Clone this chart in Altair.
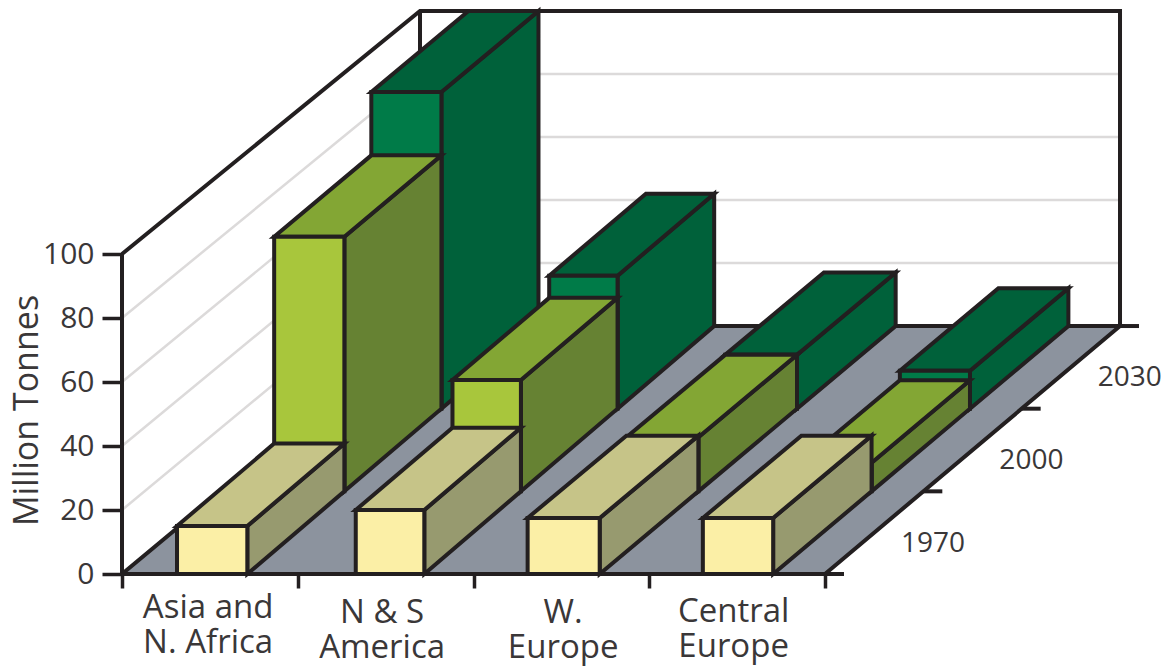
import altair as alt
import pandas as pd

# Chart values
regions = ["Asia and\nN. Africa", "N & S\nAmerica", "W.\nEurope", "Central\nEurope"]
years = ["1970", "2000", "2030"]
values_1970 = [15, 20, 17.5, 17.5]
values_2000 = [80, 35, 17, 9]
values_2030 = [100, 42, 17, 12]
y_ticks = [0, 20, 40, 60, 80, 100]
y_grid = [20, 40, 60, 80]

# Oblique projection: u = region slots, d = year rows, v = million tonnes
ROW_DX, ROW_DY = 0.5652, 25.83
SHRINK_U, SHRINK_V = 0.00142, 0.00521
BAR_START = [0.313, 0.33, 0.308, 0.305]
BAR_WIDTH = [0.4, 0.39, 0.41, 0.4]
BAR_LEAN = [0.012, 0.013, 0.0, 0.0]
SLOTS, ROWS, V_MAX = 4, 3, 100

FONT = "Open Sans"
INK = "#231F20"
TEXT = "#3A3738"
FLOOR = "#8C939E"
GRID = "#DCDADA"
row_colours = [
    {"front": "#FBEFA6", "side": "#979A6F", "top": "#C6C488"},
    {"front": "#A8C63C", "side": "#668233", "top": "#83A634"},
    {"front": "#007B48", "side": "#00613A", "top": "#00613A"},
]


def project(u, d, v):
    return u * (1 - SHRINK_U * d) + ROW_DX * d, v * (1 - SHRINK_V * d) + ROW_DY * d


polys, lines, grids = [], [], []


def add(target, pid, corners, **extra):
    for seq, (u, d, v) in enumerate(corners):
        x, y = project(u, d, v)
        target.append({"pid": pid, "seq": seq, "x": x, "y": y, **extra})


# Side wall and back wall grid lines
for v in y_grid:
    add(grids, f"side{v}", [(0, 0, v), (0, ROWS, v)])
    add(grids, f"back{v}", [(0, ROWS, v), (SLOTS, ROWS, v)])

# Frame of the walls
add(lines, "axis", [(0, 0, 0), (0, 0, V_MAX)])
add(lines, "wall-top", [(0, 0, V_MAX), (0, ROWS, V_MAX), (SLOTS, ROWS, V_MAX), (SLOTS, ROWS, 0)])
add(lines, "wall-corner", [(0, ROWS, V_MAX), (0, ROWS, 0)])

# Year ticks along the right floor edge
for d in range(ROWS + 1):
    x0, y0 = project(SLOTS, d, 0)
    lines.append({"pid": f"tick{d}", "seq": 0, "x": x0, "y": y0})
    lines.append({"pid": f"tick{d}", "seq": 1, "x": x0 + 0.108, "y": y0})

# Floor first, then the bars from the back row to the front row
n = 0
add(polys, f"p{n}", [(0, 0, 0), (SLOTS, 0, 0), (SLOTS, ROWS, 0), (0, ROWS, 0)], fill=FLOOR)
series = [values_1970, values_2000, values_2030]
for r in reversed(range(ROWS)):
    for i, val in enumerate(series[r]):
        u0 = BAR_START[i] + i
        u1 = u0 + BAR_WIDTH[i]
        lean = BAR_LEAN[i]
        a0, a1 = u0 - lean * r, u1 - lean * r
        b0, b1 = u0 - lean * (r + 1), u1 - lean * (r + 1)
        colours = row_colours[r]
        n += 1
        add(polys, f"p{n}", [(a1, r, 0), (b1, r + 1, 0), (b1, r + 1, val), (a1, r, val)], fill=colours["side"])
        n += 1
        add(polys, f"p{n}", [(a0, r, val), (a1, r, val), (b1, r + 1, val), (b0, r + 1, val)], fill=colours["top"])
        n += 1
        add(polys, f"p{n}", [(a0, r, 0), (a1, r, 0), (a1, r, val), (a0, r, val)], fill=colours["front"])

x_scale = alt.Scale(domain=[-0.6942, 5.9630], nice=False, zero=False)
y_scale = alt.Scale(domain=[-29.0625, 179.375], nice=False, zero=False)

x_axis = alt.Axis(values=list(range(SLOTS + 1)), labels=False, title=None, domain=False, grid=False,
                  offset=-93, tickSize=14, tickWidth=3.5, tickColor=INK)
y_axis = alt.Axis(values=y_ticks, domain=False, grid=False, offset=-122, tickSize=20, tickWidth=3.5,
                  tickColor=INK, labelFont=FONT, labelFontSize=30, labelColor=TEXT, labelPadding=8,
                  title="Million Tonnes", titleFont=FONT, titleFontSize=34, titleFontWeight="normal",
                  titleColor=TEXT, titleAngle=270, titleX=-78, titleY=410)

X = alt.X("x:Q", scale=x_scale, axis=x_axis)
Y = alt.Y("y:Q", scale=y_scale, axis=y_axis)

grid_layer = alt.Chart(pd.DataFrame(grids)).mark_line(stroke=GRID, strokeWidth=2.5).encode(
    x=X, y=Y, detail="pid:N", order="seq:Q")

frame_layer = alt.Chart(pd.DataFrame(lines)).mark_line(stroke=INK, strokeWidth=4, strokeJoin="miter").encode(
    x=X, y=Y, detail="pid:N", order="seq:Q")

poly_layer = alt.Chart(pd.DataFrame(polys)).mark_line(
    interpolate="linear-closed", stroke=INK, strokeWidth=4, strokeJoin="miter"
).encode(
    x=X, y=Y, detail="pid:N", order="seq:Q",
    fill=alt.Fill("fill:N", scale=None, legend=None),
)

# Region names under the front edge and year names beside the right edge
region_frame = pd.DataFrame({
    "x": [i + f for i, f in enumerate([0.49, 0.48, 0.51, 0.48])],
    "y": [-13.7, -15.2, -15.2, -14.9],
    "label": regions,
})
region_text = alt.Chart(region_frame).mark_text(
    font=FONT, fontSize=33, color=TEXT, align="center", baseline="alphabetic", lineBreak="\n", lineHeight=35
).encode(x=X, y=Y, text="label:N")

year_frame = pd.DataFrame({
    "d": [0.5, 1.5, 2.5],
    "label": years,
})
year_frame["x"] = [project(SLOTS, d, 0)[0] + 0.335 for d in year_frame["d"]]
year_frame["y"] = [project(SLOTS, d, 0)[1] - 3.4 for d in year_frame["d"]]
year_text = alt.Chart(year_frame).mark_text(
    font=FONT, fontSize=28, color=TEXT, align="center", baseline="middle"
).encode(x=X, y=Y, text="label:N")

chart = (
    alt.layer(grid_layer, frame_layer, poly_layer, region_text, year_text)
    .properties(width=1170, height=667, padding=0, autosize=alt.AutoSizeParams(type="none"), background="white")
    .configure_view(stroke=None)
)

chart.save("out.html", embed_options={"renderer": "svg", "actions": False})
